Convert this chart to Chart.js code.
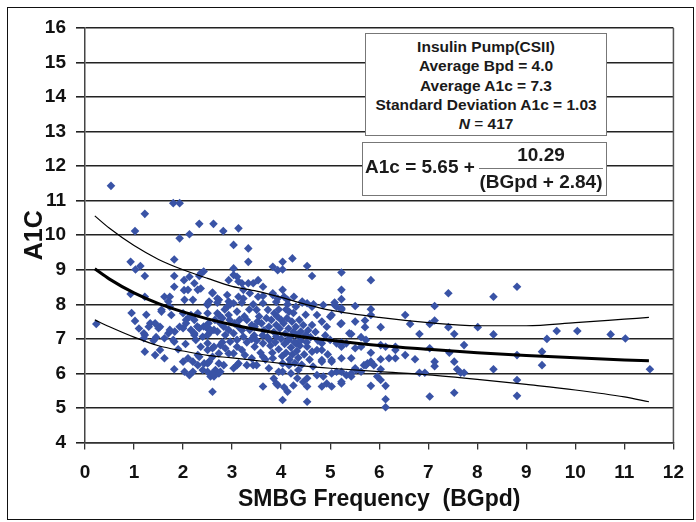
<!DOCTYPE html>
<html>
<head>
<meta charset="utf-8">
<script src="https://cdn.jsdelivr.net/npm/chart.js@4"></script>
<style>
  html, body { margin: 0; padding: 0; background: #fff; }
  #wrap { position: relative; width: 696px; height: 522px; }
  #frame { position: absolute; left: 7px; top: 7px; right: 2px; bottom: 2px; border: 1px solid #111; pointer-events: none; }
  .box { position: absolute; background: #fff; border: 1px solid #777; box-sizing: border-box;
         font-family: "Liberation Sans", Arial, sans-serif; font-weight: bold; color: #1a1a1a; }
  #stats { left: 365px; top: 33px; width: 242px; height: 103px; text-align: center; font-size: 15.5px; line-height: 19.3px; padding-top: 3px; }
  #eqn { left: 362px; top: 142px; width: 245px; height: 54px; }
  #eqn .lhs { position: absolute; left: 2px; top: 13px; font-size: 19px; }
  #eqn .num { position: absolute; left: 116px; width: 124px; top: 1px; text-align: center; font-size: 19px; }
  #eqn .bar { position: absolute; left: 116px; width: 124px; top: 25px; border-top: 1px solid #777; }
  #eqn .den { position: absolute; left: 114px; width: 128px; top: 28px; text-align: center; font-size: 19px; }
</style>
</head>
<body>
<div id="wrap">
  <canvas id="chart" width="696" height="522"></canvas>
  <div id="frame"></div>
  <div class="box" id="stats">
    Insulin Pump(CSII)<br>
    Average Bpd = 4.0<br>
    Average A1c = 7.3<br>
    Standard Deviation A1c = 1.03<br>
    <i>N</i> <span style="font-weight:normal">=</span> 417
  </div>
  <div class="box" id="eqn">
    <span class="lhs">A1c = 5.65 +</span>
    <span class="num">10.29</span>
    <span class="bar"></span>
    <span class="den">(BGpd + 2.84)</span>
  </div>
</div>
<script>
// patients: SMBG frequency (BGpd) and A1c
const pointBGpd = [
  0.23,0.53,1.80,1.93,1.22,1.02,2.33,2.62,1.93,2.13,1.82,0.93,1.03,1.13,1.22,0.93,1.22,
  1.82,2.02,2.13,2.23,2.33,2.42,2.36,1.82,2.02,1.62,1.73,2.03,2.20,2.60,2.53,
  1.02,1.22,1.22,1.43,1.62,1.53,1.33,1.43,1.50,1.56,1.70,1.83,1.82,1.62,1.82,2.00,2.10,2.03,2.20,2.13,2.40,2.60,
  2.06,2.16,2.23,2.29,2.42,2.52,2.55,2.36,2.50,2.60,2.30,2.00,2.16,2.50,2.43,2.56,
  2.82,3.13,3.03,3.33,3.33,2.36,3.03,2.93,3.10,3.13,3.33,3.53,3.63,3.83,3.93,4.03,4.03,4.23,4.53,4.63,
  5.23,5.23,5.23,3.83,4.03,4.13,4.30,2.60,2.73,2.93,3.13,3.23,3.36,3.53,3.63,5.09,
  5.83,5.51,5.83,7.41,8.33,7.13,
  8.81,8.33,8.33,8.81,8.81,8.81,9.32,9.32,9.42,9.62,10.04,10.72,11.02,11.52,
  5.83,6.53,5.21,5.51,5.71,5.71,6.03,6.63,7.03,7.13,7.41,8.01,7.53,6.82,5.43,5.63,5.23,5.51,5.63,6.03,
  6.13,6.33,6.33,5.23,5.83,6.03,6.20,6.33,6.53,6.73,7.03,7.43,7.73,7.13,7.13,7.53,5.69,5.76,5.83,5.23,
  5.43,5.51,5.63,6.03,5.23,5.83,6.03,6.13,6.13,6.13,6.82,6.93,7.59,7.66,7.73,7.53,7.03,5.23,
  3.83,3.93,4.06,4.26,4.43,4.53,4.63,5.13,5.23,4.73,4.83,4.93,5.00,4.83,4.83,5.00,5.13,5.33,5.73,
  4.63,4.73,4.53,4.83,5.03,5.43,5.53,5.73,5.89,4.03,4.20,4.33,4.53,4.73,4.86,5.03,5.13,5.33,5.43,
  3.63,3.93,4.13,4.53,4.83,4.93,5.03,5.23,4.03,4.53,5.96,
  3.03,3.20,3.43,2.10,2.30,1.70,2.50,1.56,1.73,1.76,2.13,2.23,2.06,2.00,2.30,1.30,1.53,1.73,1.20,1.20,
  1.80,1.93,2.33,2.53,2.23,2.40,2.26,2.50,2.63,2.76,2.70,2.80,2.90,3.03,3.23,2.70,2.90,
  2.83,2.93,3.03,3.10,3.23,3.36,3.46,2.73,2.60,2.33,2.50,2.86,3.03,3.20,3.26,3.43,
  2.20,2.30,2.50,2.66,2.83,3.03,3.13,2.50,2.63,2.73,
  3.90,4.06,2.60,2.76,2.53,2.73,2.93,3.10,3.30,3.50,3.40,3.63,3.83,4.03,4.16,4.83,5.03,
  5.23,5.39,5.03,5.23,4.63,4.50,4.30,4.40,3.86,3.50,3.73,4.00,3.90,4.16,3.10,3.30,2.93,2.73,3.13,3.40,
  2.46,2.56,2.70,2.86,2.63,2.76,2.96,3.10,3.46,3.63,3.76,3.90,
  2.50,2.70,2.96,3.20,3.43,3.63,3.90,4.13,4.43,4.66,4.86,5.09,
  3.55,3.60,3.65,3.70,3.72,3.75,3.78,3.80,3.82,3.85,3.88,3.92,3.95,3.97,4.00,4.02,4.05,4.07,4.08,4.10,
  4.12,4.14,4.15,4.17,4.18,4.20,4.22,4.23,4.25,4.27,4.28,4.30,4.32,4.33,4.35,4.37,4.38,4.40,4.42,4.45,
  4.47,4.50,4.52,4.55,4.58,4.60,3.45,3.50,3.52,3.58,3.62,3.68,3.95,4.10,4.25,3.35,3.25,3.15,3.05,2.95,
  2.85,3.40,3.30,3.20,2.65,2.80,4.70,4.75,4.90,4.95,4.45,4.25,4.65,3.75,3.95,3.85,4.35,2.05,1.90,1.40,
  1.10,1.45,0.95,1.25
];
const pointA1c = [
  7.43,11.43,10.93,10.93,10.62,10.12,10.33,10.33,9.91,10.03,9.30,9.23,9.01,9.11,8.82,8.30,8.22,
  8.82,8.70,8.80,8.61,8.82,8.95,8.46,8.51,8.41,8.22,8.22,8.13,8.13,8.34,8.08,
  7.52,7.11,6.63,6.53,6.44,6.68,7.45,7.45,7.31,7.79,7.16,7.21,6.92,7.02,6.12,6.34,6.44,6.05,6.05,5.95,6.10,5.47,
  7.55,7.26,7.11,7.36,7.36,7.45,7.19,6.77,6.87,6.73,6.53,7.74,7.69,7.74,6.29,5.91,
  10.12,10.20,9.72,9.62,9.23,8.90,9.04,8.70,8.80,8.66,8.61,8.70,8.51,9.09,8.99,9.23,9.01,9.33,9.11,8.82,
  8.92,8.42,8.15,8.27,8.42,8.13,7.93,8.32,8.13,8.08,8.22,8.42,8.32,8.22,8.24,7.98,
  8.70,7.95,7.86,8.32,8.22,7.95,
  8.51,7.13,6.12,6.53,5.81,5.35,6.63,6.24,7.00,7.23,7.23,7.13,7.01,6.12,
  7.69,7.69,7.43,7.50,7.53,7.34,7.34,7.43,7.43,7.53,7.34,7.34,7.14,7.14,7.14,7.05,6.77,6.73,6.77,6.82,
  6.77,6.77,6.68,6.44,6.60,6.41,6.44,6.44,6.53,6.41,6.73,6.60,6.82,6.34,6.21,6.34,6.24,6.29,6.34,6.05,
  5.91,6.15,6.05,6.12,5.76,5.64,5.81,5.64,5.25,5.02,6.02,6.02,6.12,6.02,6.02,5.44,5.33,6.89,
  8.32,8.17,8.22,8.22,8.08,8.03,7.93,7.93,7.89,7.69,7.50,7.35,7.64,6.87,6.68,6.97,6.87,6.87,6.97,
  6.63,6.68,6.77,6.39,6.39,6.44,6.10,6.24,6.24,6.05,6.00,5.86,5.86,5.95,5.91,6.00,6.05,5.95,6.00,
  5.62,5.66,5.47,5.62,5.62,5.71,5.62,5.71,5.23,5.18,5.91,
  8.85,8.61,8.61,8.42,8.42,8.08,7.98,7.84,7.93,7.69,7.64,7.55,7.45,7.31,7.74,7.35,7.35,7.26,7.16,7.02,
  6.97,7.35,7.31,7.26,7.16,7.06,6.97,7.11,7.26,7.45,7.74,7.60,7.93,8.03,8.17,8.17,8.27,
  7.35,7.26,7.16,6.97,7.06,7.26,7.35,6.58,6.48,6.48,6.68,6.73,6.58,6.68,6.53,6.24,
  6.34,6.24,6.29,6.10,6.24,6.15,6.29,6.05,5.91,6.00,
  5.71,5.60,6.00,6.05,6.34,6.29,6.58,6.24,6.24,6.24,6.44,6.48,6.44,6.29,6.24,6.34,6.34,
  7.45,7.16,7.69,7.84,7.40,7.11,6.87,7.21,7.74,7.84,7.84,7.55,7.40,7.79,7.79,7.55,7.69,7.69,7.35,7.40,
  7.35,7.26,7.21,7.11,6.77,6.82,6.92,6.77,6.77,6.87,6.97,7.06,
  8.02,8.05,8.00,8.05,8.00,8.03,8.07,8.00,8.05,8.00,7.98,8.05,
  7.65,7.45,7.25,7.60,7.05,7.35,6.80,7.55,6.60,7.20,6.90,7.65,6.70,7.30,7.00,6.50,7.45,6.85,7.15,6.60,
  7.60,6.95,7.30,6.40,7.05,6.75,7.50,6.55,7.20,6.90,6.30,7.35,6.65,7.10,6.45,7.55,6.80,6.95,6.25,7.40,
  6.55,7.70,6.90,7.25,6.40,7.05,7.10,6.95,7.50,6.60,7.10,6.40,7.85,7.85,7.75,7.85,7.65,7.55,7.45,7.55,
  7.85,7.00,6.90,7.25,7.55,6.90,7.20,6.95,7.10,6.55,5.75,5.65,6.20,6.15,6.05,5.85,6.10,6.85,6.70,6.95,
  7.30,7.05,7.75,7.70
];

// regression curve and its two bands, read at these BGpd values
const curveBGpd = [0.2, 0.5, 1, 1.5, 2, 2.5, 3, 3.5, 4, 4.5, 5, 6, 7, 8, 9, 10, 11, 11.5];
const fitA1c    = [9.03, 8.73, 8.33, 8.02, 7.78, 7.58, 7.41, 7.27, 7.15, 7.05, 6.96, 6.81, 6.70, 6.60, 6.52, 6.45, 6.39, 6.37];
const upperA1c  = [10.56, 10.2, 9.7, 9.3, 9.0, 8.75, 8.52, 8.38, 8.2, 8.0, 7.83, 7.62, 7.47, 7.38, 7.38, 7.47, 7.57, 7.62];
const lowerA1c  = [7.55, 7.35, 7.05, 6.8, 6.65, 6.52, 6.45, 6.37, 6.29, 6.21, 6.15, 6.05, 5.96, 5.83, 5.68, 5.52, 5.32, 5.18];

const xTickValues = [0, 1, 2, 3, 4, 5, 6, 7, 8, 9, 10, 11, 12];
const yTickValues = [4, 5, 6, 7, 8, 9, 10, 11, 12, 13, 14, 15, 16];

const toPoints = (xs, ys) => xs.map((x, i) => ({ x: x, y: ys[i] }));
const FONT = "'Liberation Sans', Arial, sans-serif";

const lineSet = (data, width) => ({
  type: 'line',
  data: toPoints(curveBGpd, data),
  borderColor: '#000',
  borderWidth: width,
  pointRadius: 0,
  fill: false,
  cubicInterpolationMode: 'monotone',
  order: 1
});

// right edge of the plot frame
const rightBorder = {
  id: 'rightBorder',
  afterDraw(chart) {
    const { ctx, chartArea } = chart;
    ctx.save();
    ctx.strokeStyle = '#555';
    ctx.lineWidth = 1.5;
    ctx.beginPath();
    ctx.moveTo(chartArea.right, chartArea.top);
    ctx.lineTo(chartArea.right, chartArea.bottom);
    ctx.stroke();
    ctx.restore();
  }
};

new Chart(document.getElementById('chart'), {
  type: 'scatter',
  data: {
    datasets: [
      lineSet(fitA1c, 3),
      lineSet(upperA1c, 1.2),
      lineSet(lowerA1c, 1.2),
      {
        data: toPoints(pointBGpd, pointA1c),
        pointStyle: 'rectRot',
        pointRadius: 4.3,
        backgroundColor: '#3953a6',
        borderColor: '#3953a6',
        borderWidth: 0,
        order: 2
      }
    ]
  },
  options: {
    responsive: false,
    animation: false,
    layout: { padding: { left: 0, top: 28, right: 10, bottom: 0 } },
    plugins: { legend: { display: false }, tooltip: { enabled: false } },
    scales: {
      x: {
        type: 'linear',
        min: 0,
        max: 12,
        afterBuildTicks: s => { s.ticks = xTickValues.map(v => ({ value: v })); },
        afterFit: s => { s.height = 79.5; },
        grid: { drawOnChartArea: false, drawTicks: true, tickLength: 7, color: '#333', lineWidth: 1.3 },
        border: { color: '#333', width: 1.6 },
        ticks: { color: '#111', padding: 12, maxRotation: 0, font: { family: FONT, size: 19, weight: 'bold' } },
        title: {
          display: true,
          text: 'SMBG Frequency  (BGpd)',
          color: '#111',
          padding: { top: 0, bottom: 9 },
          font: { family: FONT, size: 23, weight: 'bold' }
        }
      },
      y: {
        min: 4,
        max: 16,
        afterBuildTicks: s => { s.ticks = yTickValues.map(v => ({ value: v })); },
        afterFit: s => { s.width = 85; },
        grid: { color: '#222', lineWidth: 1.6, tickLength: 9 },
        border: { color: '#444', width: 1.5 },
        ticks: { color: '#111', padding: 10, font: { family: FONT, size: 19, weight: 'bold' } },
        title: {
          display: true,
          text: 'A1C',
          color: '#111',
          padding: { top: 20, bottom: 0 },
          font: { family: FONT, size: 25, weight: 'bold' }
        }
      }
    }
  },
  plugins: [rightBorder]
});
</script>
</body>
</html>
